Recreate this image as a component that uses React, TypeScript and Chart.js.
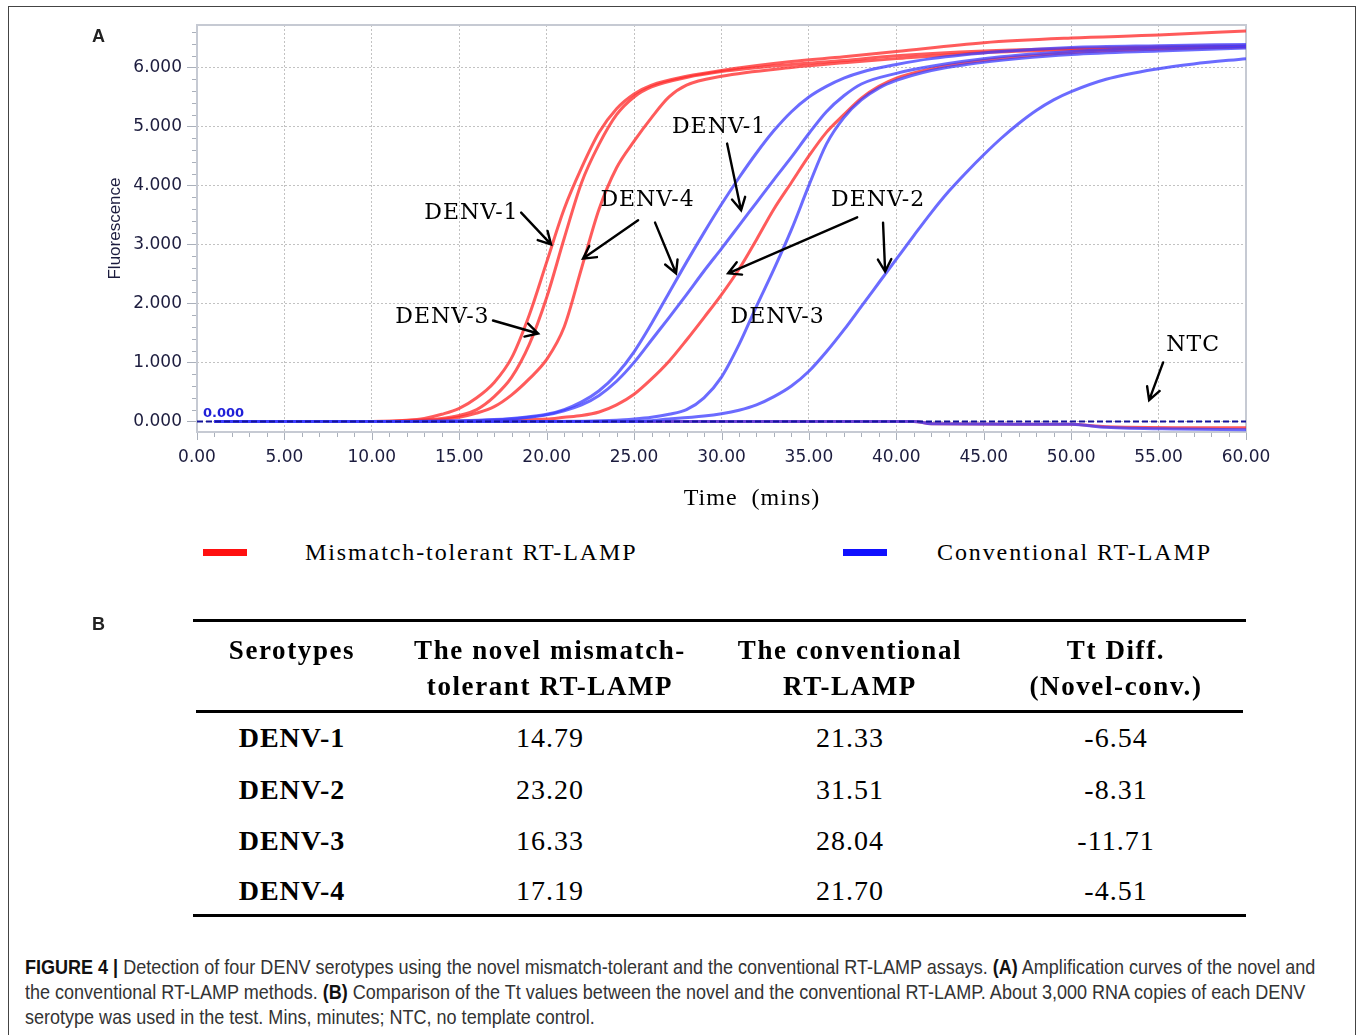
import React, { useEffect, useRef } from "react";
import { Chart, registerables } from "chart.js";
Chart.register(...registerables);

type Pt = [number, number];

// ---- Panel A data: time (min) vs fluorescence ----
// Novel mismatch-tolerant RT-LAMP (red)
const novelDenv1: Pt[] = [[1,0],[10,0],[12,0.02],[13,0.05],[14,0.12],[15,0.22],[16,0.4],[17,0.66],[18,1.08],[19,1.8],[20,2.7],[21,3.6],[22,4.3],[23,4.9],[24,5.3],[25,5.55],[26,5.7],[28,5.85],[30,5.95],[34,6.1],[37,6.18],[40,6.27],[45,6.42],[50,6.5],[55,6.55],[60,6.62]];
const novelDenv3: Pt[] = [[1,0],[10,0],[12,0.01],[14,0.05],[15,0.1],[16,0.2],[17,0.42],[18,0.75],[19,1.3],[20,2.1],[21,3.1],[22,4.05],[23,4.7],[24,5.2],[25,5.5],[26,5.67],[28,5.83],[30,5.93],[34,6.05],[37,6.12],[40,6.2],[45,6.28],[50,6.32],[55,6.35],[60,6.37]];
const novelDenv4: Pt[] = [[1,0],[12,0],[14,0.03],[15,0.07],[16,0.14],[17,0.25],[18,0.45],[19,0.72],[20,1.05],[21,1.6],[22,2.6],[23,3.6],[24,4.3],[25,4.75],[26,5.15],[27,5.5],[28,5.7],[30,5.85],[34,6.0],[37,6.08],[40,6.15],[45,6.25],[50,6.3],[55,6.33],[60,6.35]];
const novelDenv2: Pt[] = [[1,0],[15,0],[18,0.02],[20,0.04],[21,0.07],[22,0.1],[23,0.16],[24,0.28],[25,0.46],[26,0.72],[27,1.02],[28,1.38],[29,1.76],[30,2.15],[31,2.58],[32,3.08],[33,3.6],[34,4.05],[35,4.5],[36,4.9],[37,5.2],[38,5.48],[39,5.68],[40,5.82],[42,5.98],[44,6.08],[47,6.18],[50,6.25],[55,6.31],[60,6.35]];
const novelNtc: Pt[] = [[1,0],[41,0],[42,-0.04],[50,-0.05],[52,-0.09],[60,-0.11]];

// Conventional RT-LAMP (blue)
const convDenv1: Pt[] = [[1,0],[12,0],[15,0.01],[17,0.03],[18,0.05],[19,0.08],[20,0.12],[21,0.2],[22,0.33],[23,0.52],[24,0.8],[25,1.18],[26,1.66],[27,2.18],[28,2.7],[29,3.2],[30,3.68],[31,4.13],[32,4.55],[33,4.93],[34,5.25],[35,5.5],[36,5.68],[37,5.82],[38,5.92],[40,6.05],[42,6.15],[46,6.27],[50,6.34],[55,6.37],[60,6.39]];
const convDenv4: Pt[] = [[1,0],[12,0],[16,0.01],[18,0.04],[19,0.07],[20,0.11],[21,0.18],[22,0.28],[23,0.44],[24,0.68],[25,1.0],[26,1.38],[27,1.76],[28,2.15],[29,2.55],[30,2.93],[31,3.32],[32,3.71],[33,4.1],[34,4.48],[35,4.88],[36,5.25],[37,5.52],[38,5.72],[40,5.9],[42,6.02],[46,6.18],[50,6.27],[55,6.33],[60,6.36]];
const convDenv3: Pt[] = [[1,0],[20,0],[24,0.02],[25,0.04],[26,0.07],[27,0.12],[28,0.2],[29,0.4],[30,0.75],[31,1.3],[32,1.95],[33,2.58],[34,3.25],[35,4.0],[36,4.7],[37,5.15],[38,5.45],[39,5.65],[40,5.78],[42,5.95],[44,6.05],[47,6.15],[50,6.22],[55,6.28],[60,6.33]];
const convDenv2: Pt[] = [[1,0],[25,0],[27,0.04],[29,0.09],[30,0.13],[31,0.19],[32,0.28],[33,0.42],[34,0.6],[35,0.85],[36,1.18],[37,1.55],[38,1.95],[39,2.35],[40,2.75],[41,3.15],[42,3.54],[43,3.9],[44,4.22],[45,4.52],[46,4.8],[47,5.05],[48,5.27],[49,5.45],[50,5.59],[52,5.8],[55,5.98],[57,6.06],[60,6.15]];
const convNtc: Pt[] = [[1,0],[41,0],[42,-0.04],[50,-0.05],[52,-0.1],[56,-0.13],[60,-0.14]];

const thresholdLine: Pt[] = [[0,0],[60,0]];
const thresholdLabel = "0.000";

const xTickValues = [0, 5, 10, 15, 20, 25, 30, 35, 40, 45, 50, 55, 60];
const yTickValues = [0, 1, 2, 3, 4, 5, 6];

// annotation labels (data coordinates) with arrows [tailX, tailY, headX, headY]
const annotationLabels = [
  { text: "DENV-1", x: 15.7, y: 3.52, arrows: [[18.54, 3.54, 20.25, 3.0]] },
  { text: "DENV-3", x: 14.04, y: 1.76, arrows: [[16.93, 1.71, 19.51, 1.49]] },
  { text: "DENV-4", x: 25.77, y: 3.75, arrows: [[25.23, 3.41, 22.08, 2.76], [26.2, 3.37, 27.4, 2.51]] },
  { text: "DENV-1", x: 29.86, y: 4.98, arrows: [[30.32, 4.71, 31.12, 3.58]] },
  { text: "DENV-2", x: 38.96, y: 3.75, arrows: [[37.76, 3.46, 30.38, 2.51], [39.24, 3.37, 39.36, 2.54]] },
  { text: "DENV-3", x: 33.21, y: 1.76, arrows: [] as number[][] },
  { text: "NTC", x: 56.98, y: 1.29, arrows: [[55.26, 1.0, 54.46, 0.36]] },
];

// ---- Panel B table ----
const tableSerotypes = ["DENV-1", "DENV-2", "DENV-3", "DENV-4"];
const tableNovel = ["14.79", "23.20", "16.33", "17.19"];
const tableConventional = ["21.33", "31.51", "28.04", "21.70"];
const tableDiff = ["-6.54", "-8.31", "-11.71", "-4.51"];

const RED = "rgba(255,45,45,0.78)";
const BLUE = "rgba(60,60,255,0.76)";

const toXY = (pts: Pt[]) => pts.map(([x, y]) => ({ x, y }));

const decorPlugin = {
  id: "decor",
  beforeDatasetsDraw(chart: any) {
    const { ctx, chartArea: ca } = chart;
    ctx.save();
    ctx.strokeStyle = "#c6cad3";
    ctx.lineWidth = 2;
    ctx.strokeRect(ca.left, ca.top, ca.right - ca.left, ca.bottom - ca.top);
    ctx.restore();
  },
  afterDraw(chart: any) {
    const { ctx, chartArea: ca, scales } = chart;
    const xs = scales.x;
    const ys = scales.y;
    ctx.save();
    // minor / major ticks
    ctx.strokeStyle = "#aab0bb";
    ctx.lineWidth = 1;
    for (let i = 0; i <= 33; i++) {
      const v = i * 0.2;
      if (v > ys.max) break;
      const p = Math.round(ys.getPixelForValue(v)) + 0.5;
      const len = i % 5 === 0 ? 10 : 5;
      ctx.beginPath();
      ctx.moveTo(ca.left - len, p);
      ctx.lineTo(ca.left - 1, p);
      ctx.stroke();
    }
    for (let t = 0; t <= 60; t++) {
      const p = Math.round(xs.getPixelForValue(t)) + 0.5;
      const len = t % 5 === 0 ? 8 : 5;
      ctx.beginPath();
      ctx.moveTo(p, ca.bottom + 1);
      ctx.lineTo(p, ca.bottom + len);
      ctx.stroke();
    }
    // threshold label
    ctx.fillStyle = "#2020d8";
    ctx.font = 'bold 13px "DejaVu Sans"';
    ctx.textAlign = "left";
    ctx.textBaseline = "bottom";
    ctx.fillText(thresholdLabel, ca.left + 6, ys.getPixelForValue(0) - 1);

    // x title
    ctx.fillStyle = "#000";
    ctx.font = '24px "Liberation Serif"';
    (ctx as any).letterSpacing = "1px";
    ctx.textAlign = "center";
    ctx.textBaseline = "middle";
    ctx.fillText("Time  (mins)", ca.left + 555, ca.bottom + 67);

    // annotations
    ctx.font = '22px "DejaVu Serif"';
    (ctx as any).letterSpacing = "1px";
    ctx.strokeStyle = "#000";
    ctx.lineWidth = 2.4;
    ctx.lineCap = "round";
    for (const a of annotationLabels) {
      ctx.fillText(a.text, xs.getPixelForValue(a.x), ys.getPixelForValue(a.y));
      for (const [tx, ty, hx, hy] of a.arrows) {
        const x1 = xs.getPixelForValue(tx), y1 = ys.getPixelForValue(ty);
        const x2 = xs.getPixelForValue(hx), y2 = ys.getPixelForValue(hy);
        ctx.beginPath();
        ctx.moveTo(x1, y1);
        ctx.lineTo(x2, y2);
        const ang = Math.atan2(y2 - y1, x2 - x1);
        const hl = 14, spread = 0.5;
        ctx.moveTo(x2 - hl * Math.cos(ang - spread), y2 - hl * Math.sin(ang - spread));
        ctx.lineTo(x2, y2);
        ctx.lineTo(x2 - hl * Math.cos(ang + spread), y2 - hl * Math.sin(ang + spread));
        ctx.stroke();
      }
    }
    (ctx as any).letterSpacing = "0px";
    ctx.restore();
  },
};

function ChartPanel() {
  const ref = useRef<HTMLCanvasElement | null>(null);
  useEffect(() => {
    if (!ref.current) return;
    const line = (pts: Pt[], color: string) => ({
      data: toXY(pts),
      borderColor: color,
      backgroundColor: color,
      borderWidth: 3,
      pointRadius: 0,
      cubicInterpolationMode: "monotone" as const,
      fill: false,
    });
    const chart = new Chart(ref.current, {
      type: "line",
      data: {
        datasets: [
          {
            data: toXY(thresholdLine),
            borderColor: "#14149a",
            borderWidth: 2,
            borderDash: [6, 3],
            pointRadius: 0,
            fill: false,
          },
          line(convDenv1, BLUE),
          line(convDenv4, BLUE),
          line(convDenv3, BLUE),
          line(convDenv2, BLUE),
          line(convNtc, BLUE),
          line(novelDenv1, RED),
          line(novelDenv3, RED),
          line(novelDenv4, RED),
          line(novelDenv2, RED),
          line(novelNtc, RED),
        ] as any,
      },
      options: {
        animation: false,
        responsive: false,
        maintainAspectRatio: false,
        parsing: false as any,
        layout: { padding: { left: 0, right: 109, top: 18, bottom: 0 } },
        plugins: { legend: { display: false }, tooltip: { enabled: false } },
        scales: {
          x: {
            type: "linear",
            min: 0,
            max: 60,
            afterBuildTicks: (s: any) => {
              s.ticks = xTickValues.map((v) => ({ value: v }));
            },
            afterFit: (s: any) => {
              s.height = 88;
              s.paddingLeft = 0;
              s.paddingRight = 0;
            },
            ticks: {
              callback: (v: any) => Number(v).toFixed(2),
              font: { family: "DejaVu Sans", size: 17 },
              color: "#1c1c3e",
              padding: 15,
              maxRotation: 0,
              autoSkip: false,
            },
            grid: { color: "#c2c2c2", lineWidth: 1, drawTicks: false },
            border: { display: false, dash: [2, 2] },
          },
          y: {
            type: "linear",
            min: -0.18,
            max: 6.72,
            afterBuildTicks: (s: any) => {
              s.ticks = yTickValues.map((v) => ({ value: v }));
            },
            afterFit: (s: any) => {
              s.width = 188;
              s.paddingTop = 0;
              s.paddingBottom = 0;
            },
            ticks: {
              callback: (v: any) => Number(v).toFixed(3),
              font: { family: "DejaVu Sans", size: 17 },
              color: "#1c1c3e",
              padding: 15,
            },
            title: {
              display: true,
              text: "Fluorescence",
              font: { family: "Liberation Sans", size: 17 },
              color: "#1c1c3e",
              padding: { top: 96, bottom: 0 },
            },
            grid: { color: "#c2c2c2", lineWidth: 1, drawTicks: false },
            border: { display: false, dash: [2, 2] },
          },
        },
      },
      plugins: [decorPlugin],
    });
    return () => chart.destroy();
  }, []);
  return (
    <canvas
      ref={ref}
      width={1346}
      height={513}
      style={{ position: "absolute", left: 0, top: 0, width: 1346, height: 513 }}
    />
  );
}

// page coords -> container coords (container padding box starts at page (9,7))
const OX = 9;
const OY = 7;

function Text({ cx, cy, children, lh, style }: { cx: number; cy: number; children: any; lh: number; style: any }) {
  return (
    <div
      style={{
        position: "absolute",
        left: cx - OX - 250,
        width: 500,
        top: cy - OY - lh / 2,
        height: lh,
        textAlign: "center",
        whiteSpace: "nowrap",
        color: "#000",
        ...style,
        lineHeight: `${lh}px`,
      }}
    >
      {children}
    </div>
  );
}

export default function App() {
  const headStyle = { fontFamily: '"Liberation Serif", serif', fontWeight: 700, fontSize: 27, letterSpacing: "1.6px" };
  const serStyle = { fontFamily: '"Liberation Serif", serif', fontWeight: 700, fontSize: 28, letterSpacing: "1px" };
  const valStyle = { fontFamily: '"Liberation Serif", serif', fontWeight: 400, fontSize: 28, letterSpacing: "1px" };
  const rowY = [738, 790, 841, 891];
  const legendText = { position: "absolute" as const, top: 552 - OY - 14, height: 28, lineHeight: "28px", fontFamily: '"Liberation Serif", serif', fontSize: 24, letterSpacing: "1.9px", color: "#000", whiteSpace: "nowrap" as const };
  const capLine = { position: "absolute" as const, left: 25 - OX, height: 25, lineHeight: "25px", fontFamily: '"Liberation Sans", sans-serif', fontSize: 21, color: "#333", whiteSpace: "nowrap" as const, transform: "scaleX(0.858)", transformOrigin: "0 50%" };
  const rule = (y: number, x1: number, x2: number) => (
    <div style={{ position: "absolute", left: x1 - OX, top: y - OY, width: x2 - x1, height: 3, background: "#000" }} />
  );
  return (
    <div style={{ position: "absolute", left: 8, top: 6, width: 1348, height: 1029, overflow: "hidden" }}>
      <div style={{ position: "relative", width: 1346, height: 1100, border: "1px solid #444", background: "#fff" }}>
        <ChartPanel />
        <div style={{ position: "absolute", left: 92 - OX, top: 36 - OY - 10, lineHeight: "20px", fontFamily: '"Liberation Sans", Arial, sans-serif', fontWeight: 700, fontSize: 18, color: "#222" }}>A</div>
        <div style={{ position: "absolute", left: 92 - OX, top: 624 - OY - 10, lineHeight: "20px", fontFamily: '"Liberation Sans", Arial, sans-serif', fontWeight: 700, fontSize: 18, color: "#222" }}>B</div>

        {/* legend */}
        <div style={{ position: "absolute", left: 203 - OX, top: 549 - OY, width: 44, height: 7, background: "#ff1010" }} />
        <div style={{ ...legendText, left: 305 - OX }}>Mismatch-tolerant RT-LAMP</div>
        <div style={{ position: "absolute", left: 843 - OX, top: 549 - OY, width: 44, height: 7, background: "#1010ff" }} />
        <div style={{ ...legendText, left: 937 - OX }}>Conventional RT-LAMP</div>

        {/* table */}
        {rule(619, 193, 1246)}
        {rule(710, 196, 1243)}
        {rule(914, 193, 1246)}
        <Text cx={292} cy={650} lh={36} style={headStyle}>Serotypes</Text>
        <Text cx={550} cy={650} lh={36} style={headStyle}>The novel mismatch-</Text>
        <Text cx={550} cy={686} lh={36} style={headStyle}>tolerant RT-LAMP</Text>
        <Text cx={850} cy={650} lh={36} style={headStyle}>The conventional</Text>
        <Text cx={850} cy={686} lh={36} style={headStyle}>RT-LAMP</Text>
        <Text cx={1116} cy={650} lh={36} style={headStyle}>Tt Diff.</Text>
        <Text cx={1116} cy={686} lh={36} style={headStyle}>(Novel-conv.)</Text>
        {tableSerotypes.map((s, i) => (
          <React.Fragment key={s}>
            <Text cx={292} cy={rowY[i]} lh={40} style={serStyle}>{s}</Text>
            <Text cx={550} cy={rowY[i]} lh={40} style={valStyle}>{tableNovel[i]}</Text>
            <Text cx={850} cy={rowY[i]} lh={40} style={valStyle}>{tableConventional[i]}</Text>
            <Text cx={1116} cy={rowY[i]} lh={40} style={valStyle}>{tableDiff[i]}</Text>
          </React.Fragment>
        ))}

        {/* caption */}
        <div style={{ ...capLine, top: 966 - OY - 12.5 }}>
          <b style={{ color: "#111" }}>FIGURE 4 |</b> Detection of four DENV serotypes using the novel mismatch-tolerant and the conventional RT-LAMP assays. <b style={{ color: "#111" }}>(A)</b> Amplification curves of the novel and
        </div>
        <div style={{ ...capLine, top: 991 - OY - 12.5 }}>
          the conventional RT-LAMP methods. <b style={{ color: "#111" }}>(B)</b> Comparison of the Tt values between the novel and the conventional RT-LAMP. About 3,000 RNA copies of each DENV
        </div>
        <div style={{ ...capLine, top: 1016 - OY - 12.5 }}>
          serotype was used in the test. Mins, minutes; NTC, no template control.
        </div>
      </div>
    </div>
  );
}
